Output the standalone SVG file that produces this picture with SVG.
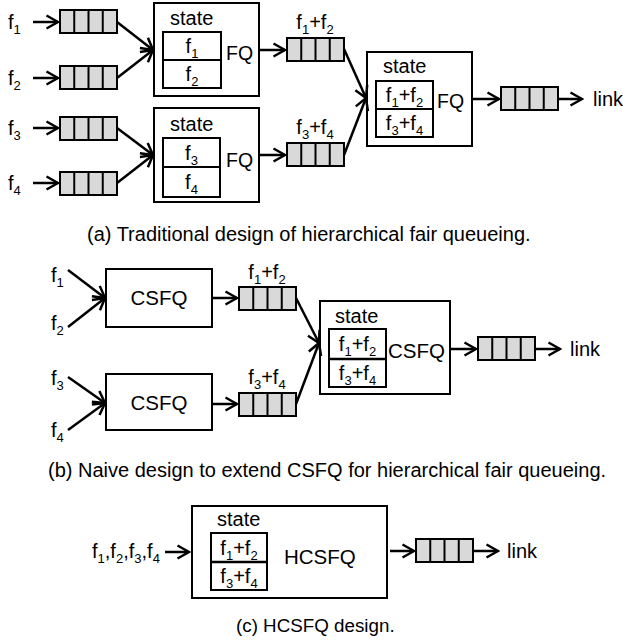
<svg xmlns="http://www.w3.org/2000/svg" width="623" height="642" viewBox="0 0 623 642">
<defs>
<style>
text{font-family:"Liberation Sans",Arial,sans-serif;font-size:20px;fill:#000}
.fq{font-size:19.5px}
.big{font-size:20.5px}
.s{font-size:13px}
.box{fill:#fff;stroke:#000;stroke-width:2}
.q{fill:#d9d9d9;stroke:#000;stroke-width:2}
.cell{stroke:#000;stroke-width:2;fill:none}
.c{stroke:#000;stroke-width:2.5;fill:none;marker-end:url(#ah)}
</style>
<marker id="ah" markerUnits="userSpaceOnUse" viewBox="-13 -8 15 16" refX="0" refY="0" markerWidth="15" markerHeight="16" orient="auto">
<path d="M-11.5,-6.5 L0,0 L-11.5,6.5" fill="none" stroke="#000" stroke-width="2.5"/>
</marker>
<g id="queue">
<rect class="q" x="0" y="0" width="57" height="23"/>
<path class="cell" d="M14.25,0V23M28.5,0V23M42.75,0V23"/>
</g>
</defs>

<!-- Panel (a) -->
<g id="a-labels">
<text x="8" y="29">f<tspan class="s" dy="5">1</tspan></text>
<text x="8" y="85">f<tspan class="s" dy="5">2</tspan></text>
<text x="8" y="135">f<tspan class="s" dy="5">3</tspan></text>
<text x="8" y="190">f<tspan class="s" dy="5">4</tspan></text>
</g>
<g id="a-q1"><use href="#queue" x="60" y="10"/></g>
<g id="a-q2"><use href="#queue" x="60" y="66"/></g>
<g id="a-q3"><use href="#queue" x="60" y="117"/></g>
<g id="a-q4"><use href="#queue" x="60" y="172"/></g>
<g id="a-fq1">
<rect class="box" x="154" y="3" width="105" height="93"/>
<text x="170" y="25">state</text>
<rect class="box" x="163" y="32" width="58" height="56"/>
<line x1="163" y1="60" x2="221" y2="60" stroke="#000" stroke-width="2"/>
<text x="192" y="53" text-anchor="middle">f<tspan class="s" dy="5">1</tspan></text>
<text x="192" y="81" text-anchor="middle">f<tspan class="s" dy="5">2</tspan></text>
<text class="fq" x="226" y="60">FQ</text>
</g>
<g id="a-fq2">
<rect class="box" x="154" y="108" width="105" height="94"/>
<text x="170" y="131">state</text>
<rect class="box" x="163" y="138" width="57" height="59"/>
<line x1="163" y1="167" x2="220" y2="167" stroke="#000" stroke-width="2"/>
<text x="191.5" y="160" text-anchor="middle">f<tspan class="s" dy="5">3</tspan></text>
<text x="191.5" y="189" text-anchor="middle">f<tspan class="s" dy="5">4</tspan></text>
<text class="fq" x="226" y="167">FQ</text>
</g>
<g id="a-q12">
<text x="315" y="29" text-anchor="middle">f<tspan class="s" dy="5">1</tspan><tspan dy="-5">+f</tspan><tspan class="s" dy="5">2</tspan></text>
<use href="#queue" x="287" y="38"/>
</g>
<g id="a-q34">
<text x="315" y="134" text-anchor="middle">f<tspan class="s" dy="5">3</tspan><tspan dy="-5">+f</tspan><tspan class="s" dy="5">4</tspan></text>
<use href="#queue" x="287" y="143"/>
</g>
<g id="a-fq3">
<rect class="box" x="367" y="52" width="105" height="94"/>
<text x="383" y="73">state</text>
<rect class="box" x="376" y="81" width="57" height="56"/>
<line x1="376" y1="109" x2="433" y2="109" stroke="#000" stroke-width="2"/>
<text x="404.5" y="102" text-anchor="middle">f<tspan class="s" dy="5">1</tspan><tspan dy="-5">+f</tspan><tspan class="s" dy="5">2</tspan></text>
<text x="404.5" y="130" text-anchor="middle">f<tspan class="s" dy="5">3</tspan><tspan dy="-5">+f</tspan><tspan class="s" dy="5">4</tspan></text>
<text class="fq" x="437" y="108">FQ</text>
</g>
<g id="a-qout"><use href="#queue" x="501" y="87"/></g>
<g id="a-link"><text x="593" y="106">link</text></g>

<!-- Panel (b) -->
<g id="b-labels">
<text x="51" y="282">f<tspan class="s" dy="5">1</tspan></text>
<text x="51" y="330">f<tspan class="s" dy="5">2</tspan></text>
<text x="51" y="385">f<tspan class="s" dy="5">3</tspan></text>
<text x="51" y="437">f<tspan class="s" dy="5">4</tspan></text>
</g>
<g id="b-cs1">
<rect class="box" x="106" y="269" width="106" height="58"/>
<text class="big" x="159" y="305" text-anchor="middle">CSFQ</text>
</g>
<g id="b-cs2">
<rect class="box" x="106" y="374" width="106" height="56"/>
<text class="big" x="159" y="410" text-anchor="middle">CSFQ</text>
</g>
<g id="b-q12">
<text x="267" y="279" text-anchor="middle">f<tspan class="s" dy="5">1</tspan><tspan dy="-5">+f</tspan><tspan class="s" dy="5">2</tspan></text>
<use href="#queue" x="239" y="287"/>
</g>
<g id="b-q34">
<text x="267" y="384" text-anchor="middle">f<tspan class="s" dy="5">3</tspan><tspan dy="-5">+f</tspan><tspan class="s" dy="5">4</tspan></text>
<use href="#queue" x="239" y="393"/>
</g>
<g id="b-cs3">
<rect class="box" x="320" y="301" width="130" height="93"/>
<text x="335" y="323">state</text>
<rect class="box" x="329" y="329" width="57" height="58"/>
<line x1="329" y1="359" x2="386" y2="359" stroke="#000" stroke-width="2.5"/>
<text x="357.5" y="351" text-anchor="middle">f<tspan class="s" dy="5">1</tspan><tspan dy="-5">+f</tspan><tspan class="s" dy="5">2</tspan></text>
<text x="357.5" y="380" text-anchor="middle">f<tspan class="s" dy="5">3</tspan><tspan dy="-5">+f</tspan><tspan class="s" dy="5">4</tspan></text>
<text class="big" x="388" y="358">CSFQ</text>
</g>
<g id="b-qout"><use href="#queue" x="478" y="337"/></g>
<g id="b-link"><text x="570" y="356">link</text></g>

<!-- Panel (c) -->
<g id="c-input"><text x="92" y="558">f<tspan class="s" dy="5">1</tspan><tspan dy="-5">,f</tspan><tspan class="s" dy="5">2</tspan><tspan dy="-5">,f</tspan><tspan class="s" dy="5">3</tspan><tspan dy="-5">,f</tspan><tspan class="s" dy="5">4</tspan></text></g>
<g id="c-hcsfq">
<rect class="box" x="192" y="506" width="195" height="92"/>
<text x="217" y="526">state</text>
<rect class="box" x="211" y="533" width="56" height="57"/>
<line x1="211" y1="562" x2="267" y2="562" stroke="#000" stroke-width="2.5"/>
<text x="239" y="555" text-anchor="middle">f<tspan class="s" dy="5">1</tspan><tspan dy="-5">+f</tspan><tspan class="s" dy="5">2</tspan></text>
<text x="239" y="583" text-anchor="middle">f<tspan class="s" dy="5">3</tspan><tspan dy="-5">+f</tspan><tspan class="s" dy="5">4</tspan></text>
<text class="big" x="284" y="564">HCSFQ</text>
</g>
<g id="c-qout"><use href="#queue" x="416" y="539"/></g>
<g id="c-link"><text x="507" y="558">link</text></g>

<!-- Connectors -->
<g id="connectors">
<line class="c" x1="33" y1="22" x2="58" y2="22"/>
<line class="c" x1="33" y1="78" x2="58" y2="78"/>
<line class="c" x1="33" y1="128" x2="58" y2="128"/>
<line class="c" x1="33" y1="183" x2="58" y2="183"/>
<line class="c" x1="117" y1="22" x2="153" y2="50"/>
<line class="c" x1="117" y1="78" x2="153" y2="50"/>
<line class="c" x1="117" y1="128" x2="153" y2="155"/>
<line class="c" x1="117" y1="183" x2="153" y2="155"/>
<line class="c" x1="260" y1="50" x2="285" y2="50"/>
<line class="c" x1="260" y1="155" x2="285" y2="155"/>
<line class="c" x1="344" y1="49" x2="366" y2="98"/>
<line class="c" x1="344" y1="155" x2="366" y2="98"/>
<line class="c" x1="473" y1="99" x2="499" y2="99"/>
<line class="c" x1="558" y1="99" x2="582" y2="99"/>

<line class="c" x1="68" y1="270" x2="105" y2="298"/>
<line class="c" x1="68" y1="327" x2="105" y2="298"/>
<line class="c" x1="68" y1="377" x2="105" y2="403"/>
<line class="c" x1="68" y1="430" x2="105" y2="403"/>
<line class="c" x1="213" y1="298" x2="237" y2="298"/>
<line class="c" x1="213" y1="404" x2="237" y2="404"/>
<line class="c" x1="296" y1="298" x2="319" y2="343"/>
<line class="c" x1="296" y1="404" x2="319" y2="343"/>
<line class="c" x1="451" y1="349" x2="476" y2="349"/>
<line class="c" x1="535" y1="349" x2="560" y2="349"/>

<line class="c" x1="165" y1="552" x2="189" y2="552"/>
<line class="c" x1="390" y1="551" x2="414" y2="551"/>
<line class="c" x1="473" y1="551" x2="498" y2="551"/>
</g>

<!-- Captions -->
<g id="captions">
<text x="87" y="241">(a) Traditional design of hierarchical fair queueing.</text>
<text x="48" y="477">(b) Naive design to extend CSFQ for hierarchical fair queueing.</text>
<text x="236" y="632" style="font-size:18.8px">(c) HCSFQ design.</text>
</g>
</svg>
